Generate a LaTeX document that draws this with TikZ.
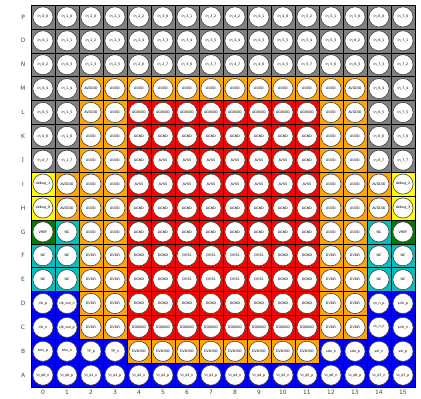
\documentclass[tikz,border=0pt]{standalone}
\usepackage{fontspec}
\setmainfont{DejaVu Sans}

\definecolor{gy}{HTML}{808080}
\definecolor{or}{HTML}{FFA500}
\definecolor{rd}{HTML}{FF0000}
\definecolor{bl}{HTML}{0000FF}
\definecolor{ye}{HTML}{FFFF00}
\definecolor{cy}{HTML}{00BFBF}
\definecolor{gn}{HTML}{007A00}
\definecolor{pinedge}{HTML}{404040}
\definecolor{axgray}{HTML}{444444}

\tikzset{
  cell/.style={draw=black, line width=0.5pt, minimum width=1cm, minimum height=0.995cm, inner sep=0pt},
  pin/.style={circle, draw=pinedge, fill=white, line width=0.7pt, minimum size=0.84cm,
    inner sep=0pt, font=\fontsize{4}{4}\selectfont},
  axlab/.style={font=\fontsize{7}{8}\selectfont, text=axgray}
}

\begin{document}
\begin{tikzpicture}[x=1cm,y=0.995cm]
  \useasboundingbox (-1.29,-0.461) rectangle (16.25,16.209);

  % --- pad cells, one row per entry (P at top, A at bottom) ---
  \foreach \r/\rname/\row in {
    15/P/{in\_0\_0/gy,in\_1\_0/gy,in\_2\_0/gy,in\_2\_1/gy,in\_2\_2/gy,in\_3\_0/gy,in\_3\_1/gy,in\_3\_2/gy,
          in\_4\_2/gy,in\_4\_1/gy,in\_4\_0/gy,in\_5\_2/gy,in\_5\_1/gy,in\_5\_0/gy,in\_6\_0/gy,in\_7\_0/gy},
    14/O/{in\_0\_1/gy,in\_1\_1/gy,in\_1\_2/gy,in\_2\_3/gy,in\_2\_4/gy,in\_3\_3/gy,in\_3\_4/gy,in\_3\_5/gy,
          in\_4\_4/gy,in\_4\_3/gy,in\_5\_5/gy,in\_5\_4/gy,in\_5\_3/gy,in\_6\_2/gy,in\_6\_1/gy,in\_7\_1/gy},
    13/N/{in\_0\_2/gy,in\_0\_3/gy,in\_1\_3/gy,in\_2\_5/gy,in\_2\_6/gy,in\_2\_7/gy,in\_3\_6/gy,in\_3\_7/gy,
          in\_4\_7/gy,in\_4\_6/gy,in\_4\_5/gy,in\_5\_7/gy,in\_5\_6/gy,in\_6\_3/gy,in\_7\_3/gy,in\_7\_2/gy},
    12/M/{in\_0\_4/gy,in\_1\_4/gy,AVDDIO/or,AVDD/or,AVDD/or,AVDD/or,AVDD/or,AVDD/or,
          AVDD/or,AVDD/or,AVDD/or,AVDD/or,AVDD/or,AVDDIO/or,in\_6\_4/gy,in\_7\_4/gy},
    11/L/{in\_0\_5/gy,in\_1\_5/gy,AVDDIO/or,AVDD/or,AGNDIO/rd,AGNDIO/rd,AGNDIO/rd,AGNDIO/rd,
          AGNDIO/rd,AGNDIO/rd,AGNDIO/rd,AGNDIO/rd,AVDD/or,AVDDIO/or,in\_6\_5/gy,in\_7\_5/gy},
    10/K/{in\_0\_6/gy,in\_1\_6/gy,AVDD/or,AVDD/or,AGND/rd,AGND/rd,AGND/rd,AGND/rd,
          AGND/rd,AGND/rd,AGND/rd,AGND/rd,AVDD/or,AVDD/or,in\_6\_6/gy,in\_7\_6/gy},
    9/J/{in\_0\_7/gy,in\_1\_7/gy,AVDD/or,AVDD/or,AGND/rd,AVSS/rd,AVSS/rd,AVSS/rd,
         AVSS/rd,AVSS/rd,AVSS/rd,AGND/rd,AVDD/or,AVDD/or,in\_6\_7/gy,in\_7\_7/gy},
    8/I/{debug\_1/ye,AVDDIO/or,AVDD/or,AVDD/or,AVSS/rd,AVSS/rd,AVSS/rd,AVSS/rd,
         AVSS/rd,AVSS/rd,AVSS/rd,AVSS/rd,AVDD/or,AVDD/or,AVDDIO/or,debug\_2/ye},
    7/H/{debug\_0/ye,AVDDIO/or,AVDD/or,AVDD/or,AGND/rd,AGND/rd,AGND/rd,AGND/rd,
         AGND/rd,AGND/rd,AGND/rd,AGND/rd,AVDD/or,AVDD/or,AVDDIO/or,debug\_3/ye},
    6/G/{VREF/gn,NC/cy,AVDD/or,AVDD/or,AGND/rd,AGND/rd,AGND/rd,AGND/rd,
         AGND/rd,AGND/rd,AGND/rd,AGND/rd,AVDD/or,AVDD/or,NC/cy,VREF/gn},
    5/F/{NC/cy,NC/cy,DVDD/or,DVDD/or,DGND/rd,DGND/rd,DVSS/rd,DVSS/rd,
         DVSS/rd,DVSS/rd,DGND/rd,DGND/rd,DVDD/or,DVDD/or,NC/cy,NC/cy},
    4/E/{NC/cy,NC/cy,DVDD/or,DVDD/or,DGND/rd,DGND/rd,DVSS/rd,DVSS/rd,
         DVSS/rd,DVSS/rd,DGND/rd,DGND/rd,DVDD/or,DVDD/or,NC/cy,NC/cy},
    3/D/{clk\_p/bl,clk\_out\_n/bl,DVDD/or,DVDD/or,DGND/rd,DGND/rd,DGND/rd,DGND/rd,
         DGND/rd,DGND/rd,DGND/rd,DGND/rd,DVDD/or,DVDD/or,cs\_n\_p/bl,sclk\_p/bl},
    2/C/{clk\_n/bl,clk\_out\_p/bl,DVDD/or,DVDD/or,DGNDIO/rd,DGNDIO/rd,DGNDIO/rd,DGNDIO/rd,
         DGNDIO/rd,DGNDIO/rd,DGNDIO/rd,DGNDIO/rd,DVDD/or,DVDD/or,cs\_n\_n/bl,sclk\_n/bl},
    1/B/{rms\_p/bl,rms\_n/bl,TP\_p/bl,TP\_n/bl,DVDDIO/or,DVDDIO/or,DVDDIO/or,DVDDIO/or,
         DVDDIO/or,DVDDIO/or,DVDDIO/or,DVDDIO/or,sdo\_n/bl,sdo\_p/bl,sdi\_n/bl,sdi\_p/bl},
    0/A/{lo\_q0\_n/bl,lo\_q0\_p/bl,lo\_q1\_n/bl,lo\_q1\_p/bl,lo\_q2\_n/bl,lo\_q2\_p/bl,lo\_q3\_n/bl,lo\_q3\_p/bl,
         lo\_q4\_n/bl,lo\_q4\_p/bl,lo\_q5\_n/bl,lo\_q5\_p/bl,lo\_q6\_n/bl,lo\_q6\_p/bl,lo\_q7\_n/bl,lo\_q7\_p/bl}%
  }{
    \foreach \lab/\c [count=\i from 0] in \row {
      \node[cell, fill=\c] (c\rname\i) at (\i+0.5,\r+0.5) {};
      \node[pin] (p\rname\i) at (c\rname\i) {\lab};
    }
    % row letter on the left
    \node[axlab] (row\rname) at (-0.33,\r+0.5) {\rname};
  }

  % --- column numbers 0..15 (bottom) ---
  \foreach \i in {0,...,15} {
    \node[axlab] (col\i) at (\i+0.5,-0.21) {\i};
  }
\end{tikzpicture}
\end{document}
